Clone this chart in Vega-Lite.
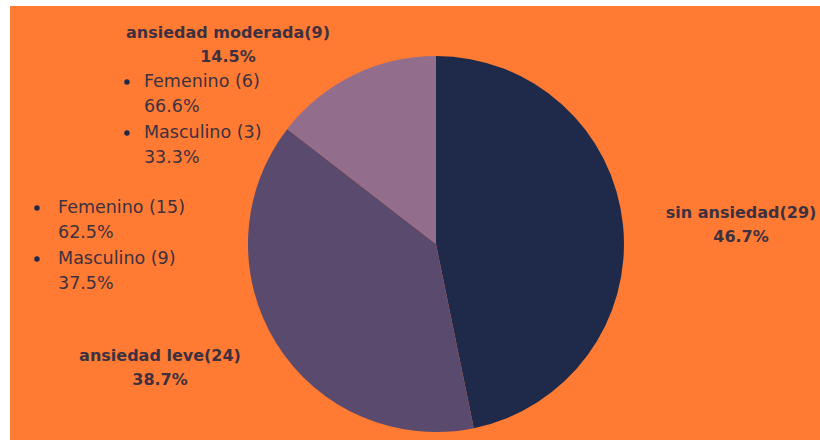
{
  "$schema": "https://vega.github.io/schema/vega-lite/v6.json",
  "width": 820,
  "height": 440,
  "autosize": {"type": "fit", "contains": "padding"},
  "padding": {"left": 10, "top": 6, "right": 0, "bottom": 0},
  "background": "#ffffff",
  "config": {"view": {"stroke": null, "fill": "#FF7A33"}},
  "datasets": {
    "categorias": [
      {"categoria": "sin ansiedad", "n": 29, "orden": 1, "rotulo": "sin ansiedad(29)\n46.7%"},
      {"categoria": "ansiedad leve", "n": 24, "orden": 2, "rotulo": "ansiedad leve(24)\n38.7%"},
      {"categoria": "ansiedad moderada", "n": 9, "orden": 3, "rotulo": "ansiedad moderada(9)\n14.5%"}
    ],
    "sexo": [
      {"categoria": "ansiedad moderada", "sexo": "Femenino", "n": 6, "rotulo": "Femenino (6)\n66.6%"},
      {"categoria": "ansiedad moderada", "sexo": "Masculino", "n": 3, "rotulo": "Masculino (3)\n33.3%"},
      {"categoria": "ansiedad leve", "sexo": "Femenino", "n": 15, "rotulo": "Femenino (15)\n62.5%"},
      {"categoria": "ansiedad leve", "sexo": "Masculino", "n": 9, "rotulo": "Masculino (9)\n37.5%"}
    ]
  },
  "layer": [
    {
      "data": {"name": "categorias"},
      "mark": {"type": "arc", "outerRadius": 188},
      "encoding": {
        "x": {"datum": 52.59, "type": "quantitative", "scale": {"domain": [0, 100]}, "axis": null},
        "y": {"datum": 54.84, "type": "quantitative", "scale": {"domain": [0, 100], "reverse": true}, "axis": null},
        "theta": {"field": "n", "type": "quantitative", "stack": true},
        "order": {"field": "orden", "type": "quantitative"},
        "color": {"field": "categoria", "type": "nominal", "legend": null,
          "scale": {"domain": ["sin ansiedad", "ansiedad leve", "ansiedad moderada"], "range": ["#1F2A4A", "#5A4A6D", "#936E8C"]}}
      }
    },
    {
      "data": {"name": "categorias"},
      "transform": [{"filter": "datum.categoria === 'sin ansiedad'"}],
      "mark": {"type": "text", "font": "DejaVu Sans", "fontWeight": "bold", "fontSize": 16, "lineBreak": "\n", "lineHeight": 24, "align": "center", "baseline": "middle", "color": "#3d3140"},
      "encoding": {
        "x": {"datum": 90.25, "type": "quantitative"},
        "y": {"datum": 47.7, "type": "quantitative"},
        "text": {"field": "rotulo", "type": "nominal"}
      }
    },
    {
      "data": {"name": "categorias"},
      "transform": [{"filter": "datum.categoria === 'ansiedad leve'"}],
      "mark": {"type": "text", "font": "DejaVu Sans", "fontWeight": "bold", "fontSize": 16, "lineBreak": "\n", "lineHeight": 24, "align": "center", "baseline": "middle", "color": "#3d3140"},
      "encoding": {
        "x": {"datum": 18.52, "type": "quantitative"},
        "y": {"datum": 80.65, "type": "quantitative"},
        "text": {"field": "rotulo", "type": "nominal"}
      }
    },
    {
      "data": {"name": "categorias"},
      "transform": [{"filter": "datum.categoria === 'ansiedad moderada'"}],
      "mark": {"type": "text", "font": "DejaVu Sans", "fontWeight": "bold", "fontSize": 16, "lineBreak": "\n", "lineHeight": 24, "align": "center", "baseline": "middle", "color": "#3d3140"},
      "encoding": {
        "x": {"datum": 26.91, "type": "quantitative"},
        "y": {"datum": 6.22, "type": "quantitative"},
        "text": {"field": "rotulo", "type": "nominal"}
      }
    },
    {
      "data": {"name": "sexo"},
      "transform": [{"filter": "datum.categoria === 'ansiedad moderada' && datum.sexo === 'Femenino'"}],
      "mark": {"type": "text", "font": "DejaVu Sans", "fontSize": 17.5, "lineBreak": "\n", "lineHeight": 25.5, "align": "left", "baseline": "middle", "color": "#3d3140"},
      "encoding": {
        "x": {"datum": 16.54, "type": "quantitative"},
        "y": {"datum": 17.51, "type": "quantitative"},
        "text": {"field": "rotulo", "type": "nominal"}
      }
    },
    {
      "data": {"name": "sexo"},
      "transform": [{"filter": "datum.categoria === 'ansiedad moderada' && datum.sexo === 'Masculino'"}],
      "mark": {"type": "text", "font": "DejaVu Sans", "fontSize": 17.5, "lineBreak": "\n", "lineHeight": 25.5, "align": "left", "baseline": "middle", "color": "#3d3140"},
      "encoding": {
        "x": {"datum": 16.54, "type": "quantitative"},
        "y": {"datum": 29.26, "type": "quantitative"},
        "text": {"field": "rotulo", "type": "nominal"}
      }
    },
    {
      "data": {"name": "sexo"},
      "transform": [{"filter": "datum.categoria === 'ansiedad leve' && datum.sexo === 'Femenino'"}],
      "mark": {"type": "text", "font": "DejaVu Sans", "fontSize": 17.5, "lineBreak": "\n", "lineHeight": 25.5, "align": "left", "baseline": "middle", "color": "#3d3140"},
      "encoding": {
        "x": {"datum": 5.93, "type": "quantitative"},
        "y": {"datum": 46.54, "type": "quantitative"},
        "text": {"field": "rotulo", "type": "nominal"}
      }
    },
    {
      "data": {"name": "sexo"},
      "transform": [{"filter": "datum.categoria === 'ansiedad leve' && datum.sexo === 'Masculino'"}],
      "mark": {"type": "text", "font": "DejaVu Sans", "fontSize": 17.5, "lineBreak": "\n", "lineHeight": 25.5, "align": "left", "baseline": "middle", "color": "#3d3140"},
      "encoding": {
        "x": {"datum": 5.93, "type": "quantitative"},
        "y": {"datum": 58.29, "type": "quantitative"},
        "text": {"field": "rotulo", "type": "nominal"}
      }
    },
    {
      "data": {"name": "sexo"},
      "transform": [{"filter": "datum.categoria === 'ansiedad moderada' && datum.sexo === 'Femenino'"}],
      "mark": {"type": "point", "shape": "circle", "filled": true, "size": 30, "opacity": 1, "color": "#1F2A4A"},
      "encoding": {
        "x": {"datum": 14.44, "type": "quantitative"},
        "y": {"datum": 17.51, "type": "quantitative"}
      }
    },
    {
      "data": {"name": "sexo"},
      "transform": [{"filter": "datum.categoria === 'ansiedad moderada' && datum.sexo === 'Masculino'"}],
      "mark": {"type": "point", "shape": "circle", "filled": true, "size": 30, "opacity": 1, "color": "#1F2A4A"},
      "encoding": {
        "x": {"datum": 14.44, "type": "quantitative"},
        "y": {"datum": 29.26, "type": "quantitative"}
      }
    },
    {
      "data": {"name": "sexo"},
      "transform": [{"filter": "datum.categoria === 'ansiedad leve' && datum.sexo === 'Femenino'"}],
      "mark": {"type": "point", "shape": "circle", "filled": true, "size": 30, "opacity": 1, "color": "#1F2A4A"},
      "encoding": {
        "x": {"datum": 3.33, "type": "quantitative"},
        "y": {"datum": 46.54, "type": "quantitative"}
      }
    },
    {
      "data": {"name": "sexo"},
      "transform": [{"filter": "datum.categoria === 'ansiedad leve' && datum.sexo === 'Masculino'"}],
      "mark": {"type": "point", "shape": "circle", "filled": true, "size": 30, "opacity": 1, "color": "#1F2A4A"},
      "encoding": {
        "x": {"datum": 3.33, "type": "quantitative"},
        "y": {"datum": 58.29, "type": "quantitative"}
      }
    }
  ]
}
